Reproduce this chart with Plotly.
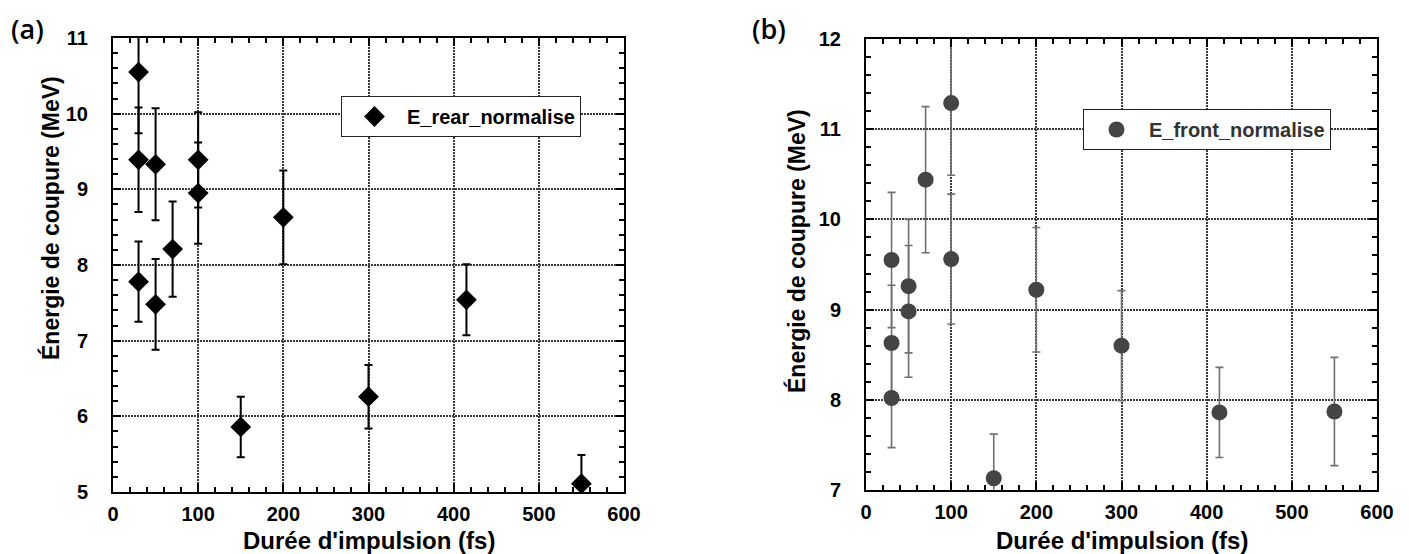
import plotly.graph_objects as go

# ---- data ----
rear_x = [30, 30, 30, 50, 50, 70, 100, 100, 150, 200, 300, 415, 550]
rear_y = [10.55, 9.39, 7.78, 9.33, 7.48, 8.21, 9.39, 8.95, 5.86, 8.63, 6.26, 7.54, 5.11]
rear_err = [0.81, 0.69, 0.53, 0.74, 0.60, 0.63, 0.63, 0.67, 0.40, 0.62, 0.42, 0.47, 0.38]

front_x = [30, 30, 30, 50, 50, 70, 100, 100, 150, 200, 300, 415, 550]
front_y = [9.55, 8.63, 8.02, 9.26, 8.98, 10.44, 11.29, 9.56, 7.13, 9.22, 8.60, 7.86, 7.87]
front_err = [0.75, 0.64, 0.55, 0.74, 0.73, 0.81, 0.80, 0.72, 0.49, 0.69, 0.61, 0.50, 0.60]

x_title = "Durée d'impulsion (fs)"
y_title = "Énergie de coupure (MeV)"
panel_labels = ["(a)", "(b)"]

W, H = 1409, 554
FONT = "Liberation Sans, Arial, sans-serif"


def px(x):
    return x / W


def py(y):
    return 1 - y / H


fig = go.Figure()
fig.add_trace(go.Scatter(
    x=rear_x, y=rear_y, mode="markers", name="E_rear_normalise",
    marker=dict(symbol="diamond", size=16, color="black"),
    error_y=dict(type="data", array=rear_err, color="black", thickness=2, width=4),
    xaxis="x", yaxis="y", legend="legend", cliponaxis=True,
))
fig.add_trace(go.Scatter(
    x=front_x, y=front_y, mode="markers", name="E_front_normalise",
    marker=dict(symbol="circle", size=16, color="#444444"),
    error_y=dict(type="data", array=front_err, color="#707070", thickness=1.6, width=4),
    xaxis="x2", yaxis="y2", legend="legend2", cliponaxis=True,
))


def xax(domain, anchor):
    return dict(
        domain=domain, anchor=anchor, range=[0, 600], dtick=100, tick0=0,
        showline=True, linecolor="black", linewidth=2, mirror="allticks",
        ticks="inside", ticklen=8, tickwidth=2, tickcolor="black",
        minor=dict(dtick=20, ticks="inside", ticklen=5, tickwidth=2, tickcolor="black", showgrid=False),
        showgrid=True, gridcolor="#3a3a3a", gridwidth=1.6, griddash="2px,1px",
        zeroline=False, ticklabelstandoff=3, automargin=False,
        tickfont=dict(family=FONT, size=20, color="black", weight="bold"),
    )


def yax(domain, anchor, rng):
    return dict(
        domain=domain, anchor=anchor, range=rng, dtick=1,
        showline=True, linecolor="black", linewidth=2, mirror="allticks",
        ticks="inside", ticklen=8, tickwidth=2, tickcolor="black",
        minor=dict(dtick=0.2, ticks="inside", ticklen=5, tickwidth=2, tickcolor="black", showgrid=False),
        showgrid=True, gridcolor="#3a3a3a", gridwidth=1.6, griddash="2px,1px",
        zeroline=False, ticklabelstandoff=19, automargin=False,
        tickfont=dict(family=FONT, size=20, color="black", weight="bold"),
    )


fig.update_layout(
    width=W, height=H, margin=dict(l=0, r=0, t=0, b=0, autoexpand=False),
    paper_bgcolor="white", plot_bgcolor="white",
    xaxis=xax([px(113), px(624)], "y"),
    yaxis=yax([py(492), py(38)], "x", [5, 11]),
    xaxis2=xax([px(866), px(1377)], "y2"),
    yaxis2=yax([py(490), py(39)], "x2", [7, 12]),
    legend=dict(
        x=px(341), y=py(96), xanchor="left", yanchor="top",
        bgcolor="white", bordercolor="#222222", borderwidth=1,
        font=dict(family=FONT, size=20, color="black", weight="bold"),
        itemwidth=55,
    ),
    legend2=dict(
        x=px(1083), y=py(109), xanchor="left", yanchor="top",
        bgcolor="white", bordercolor="#222222", borderwidth=1,
        font=dict(family=FONT, size=20, color="#333333", weight="bold"),
        itemwidth=55,
    ),
    showlegend=True,
)

# axis titles and panel labels
anns = [
    dict(text=x_title, x=px(368.5), y=py(540), size=24),
    dict(text=x_title, x=px(1121.5), y=py(540), size=24),
    dict(text=y_title, x=px(50), y=py(218), textangle=-90, size=23),
    dict(text=y_title, x=px(796), y=py(251), textangle=-90, size=23),
]
for a in anns:
    sz = a.pop("size")
    fig.add_annotation(
        xref="paper", yref="paper", xanchor="center", yanchor="middle", showarrow=False,
        font=dict(family=FONT, size=sz, color="black", weight="bold"), **a,
    )
for lbl, xc in zip(panel_labels, [27, 769]):
    fig.add_annotation(
        text=lbl, xref="paper", yref="paper", x=px(xc), y=py(28),
        xanchor="center", yanchor="middle", showarrow=False,
        font=dict(family="Open Sans, Noto Sans, sans-serif", size=27, color="black", weight=600),
    )

# remove the default 8px page margin so the figure fills the window exactly
fig.write_html(
    "out.html",
    config={"displayModeBar": False},
    post_script="document.body.style.margin='0px';document.body.style.overflow='hidden';",
)
